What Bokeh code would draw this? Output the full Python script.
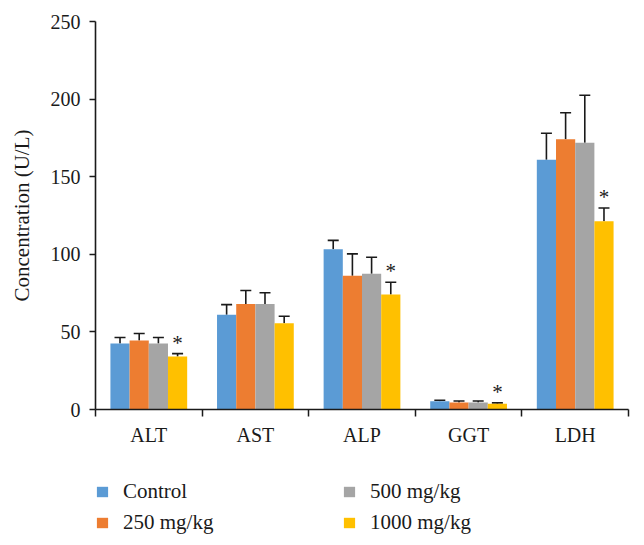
from bokeh.plotting import figure
from bokeh.layouts import column
from bokeh.models import (ColumnDataSource, FixedTicker, Whisker, TeeHead, Legend, LegendItem, Range1d)
from bokeh.core.properties import value
from bokeh.embed import file_html
from bokeh.resources import INLINE

categories = ["ALT", "AST", "ALP", "GGT", "LDH"]
groups = ["Control", "250 mg/kg", "500 mg/kg", "1000 mg/kg"]
colors = ["#5B9BD5", "#ED7D31", "#A5A5A5", "#FFC000"]

control = [42.5, 61.0, 103.3, 5.3, 161.0]
dose250 = [44.5, 68.0, 86.1, 4.5, 174.2]
dose500 = [42.5, 68.0, 87.4, 4.5, 171.8]
dose1000 = [34.1, 55.6, 74.1, 3.7, 121.3]

sd_control = [3.9, 6.6, 5.7, 0.7, 17.0]
sd_250 = [4.5, 8.7, 14.2, 1.0, 17.0]
sd_500 = [3.9, 7.2, 10.7, 1.0, 30.7]
sd_1000 = [1.9, 4.5, 7.9, 0.6, 8.5]

significant_1000 = [True, False, True, True, True]

y_ticks = [0, 50, 100, 150, 200, 250]

means = [control, dose250, dose500, dose1000]
sds = [sd_control, sd_250, sd_500, sd_1000]

FONT = "Liberation Serif"
INK = "#1a1a1a"

p = figure(frame_width=533, frame_height=388, output_backend="svg", toolbar_location=None,
           x_range=Range1d(0, len(categories)), y_range=Range1d(0, 250))
p.min_border_left = 95
p.min_border_right = 8
p.min_border_top = 21
p.min_border_bottom = 56
p.outline_line_color = None
p.xgrid.visible = False
p.ygrid.visible = False

bar_w = 0.18
offsets = [-0.27, -0.09, 0.09, 0.27]

for gi, (m, s) in enumerate(zip(means, sds)):
    xs = [i + 0.5 + offsets[gi] for i in range(len(categories))]
    tops = [a + b for a, b in zip(m, s)]
    src = ColumnDataSource(dict(x=xs, top=m, upper=tops))
    p.vbar(x="x", top="top", width=bar_w, bottom=0, source=src,
           fill_color=colors[gi], line_color=None)
    w = Whisker(base="x", lower="top", upper="upper", source=src, dimension="height",
                line_color=INK, line_width=1.6,
                upper_head=TeeHead(size=11, line_color=INK, line_width=1.6),
                lower_head=None)
    p.add_layout(w)

# significance stars above the 1000 mg/kg bars
sx, sy = [], []
for i, sig in enumerate(significant_1000):
    if sig:
        sx.append(i + 0.5 + offsets[3])
        sy.append(dose1000[i] + sd_1000[i])
p.text(x=sx, y=sy, text=["*"] * len(sx), text_align="center", text_baseline="bottom",
       y_offset=1, text_font=value(FONT), text_font_size="21px", text_color=INK)

# axes
p.xaxis.ticker = FixedTicker(ticks=[i + 0.5 for i in range(len(categories))],
                             minor_ticks=list(range(len(categories) + 1)))
p.xaxis.major_label_overrides = {i + 0.5: c for i, c in enumerate(categories)}
p.xaxis.major_tick_line_color = None
p.xaxis.minor_tick_line_color = INK
p.xaxis.minor_tick_line_width = 1.5
p.xaxis.minor_tick_out = 7
p.xaxis.minor_tick_in = 0
p.xaxis.axis_line_color = INK
p.xaxis.axis_line_width = 1.6
p.xaxis.major_label_text_font = FONT
p.xaxis.major_label_text_font_size = "20px"
p.xaxis.major_label_text_color = INK
p.xaxis.major_label_standoff = 7

p.yaxis.ticker = FixedTicker(ticks=y_ticks, minor_ticks=[])
p.yaxis.axis_line_color = INK
p.yaxis.axis_line_width = 1.6
p.yaxis.major_tick_line_color = INK
p.yaxis.major_tick_line_width = 1.5
p.yaxis.major_tick_out = 6
p.yaxis.major_tick_in = 0
p.yaxis.minor_tick_line_color = None
p.yaxis.major_label_text_font = FONT
p.yaxis.major_label_text_font_size = "20px"
p.yaxis.major_label_text_color = INK
p.yaxis.major_label_standoff = 9
p.yaxis.axis_label = "Concentration (U/L)"
p.yaxis.axis_label_text_font = FONT
p.yaxis.axis_label_text_font_size = "21px"
p.yaxis.axis_label_text_font_style = "normal"
p.yaxis.axis_label_text_color = INK
p.yaxis.axis_label_standoff = 14

# legend strip below the chart (its frame is aligned with the chart's frame)
leg = figure(width=636, height=76, output_backend="svg", toolbar_location=None,
             x_axis_location=None, y_axis_location=None,
             x_range=Range1d(0, 1), y_range=Range1d(0, 1))
leg.min_border = 0
leg.outline_line_color = None
leg.xgrid.visible = False
leg.ygrid.visible = False
# swatch renderers hold one point placed well outside the visible ranges
swatches = [leg.vbar(x=[-10], top=[-50], bottom=[-51], width=0.1, fill_color=c,
                     line_color=None) for c in colors]

legend = Legend(items=[LegendItem(label=g, renderers=[r]) for g, r in zip(groups, swatches)],
                ncols=2, orientation="vertical", location=(0, 6),
                border_line_color=None, background_fill_alpha=0,
                padding=0, margin=0, spacing=6,
                glyph_width=14, glyph_height=13, label_width=213, label_height=22,
                label_standoff=14,
                label_text_font=FONT, label_text_font_size="21px", label_text_color=INK)
leg.add_layout(legend, "center")

layout = column(p, leg, spacing=0)
open("out.html", "w").write(file_html(layout, INLINE))
